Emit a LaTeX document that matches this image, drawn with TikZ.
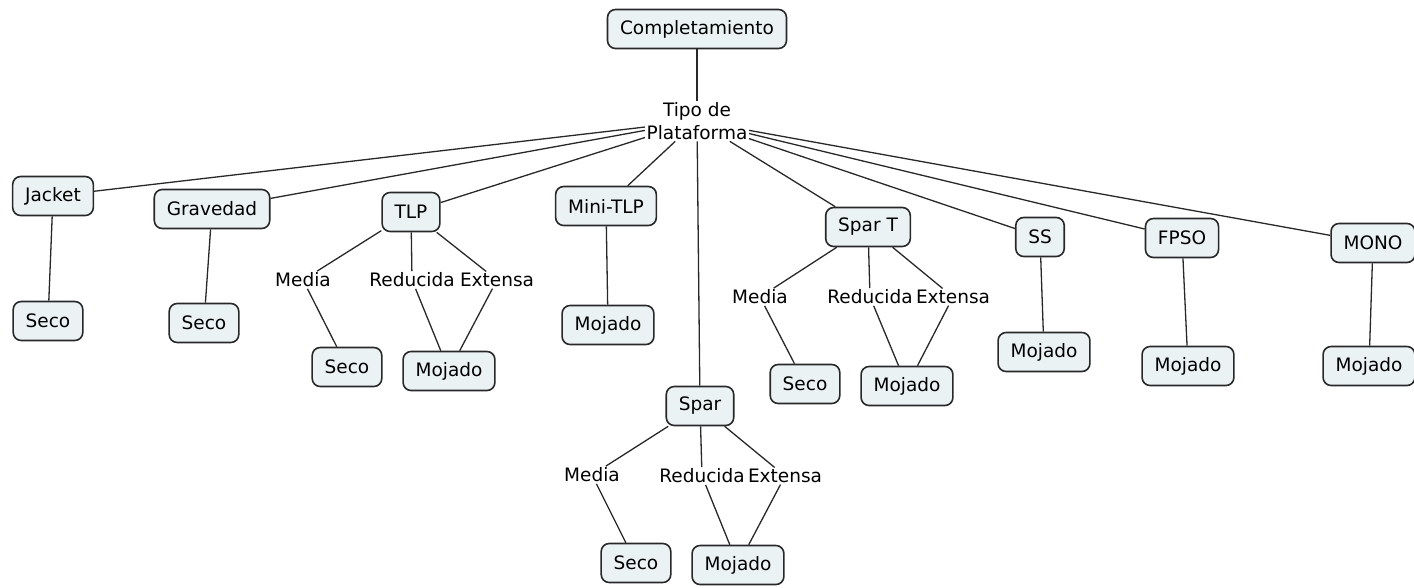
\documentclass[tikz,border=0pt]{standalone}
\usepackage{fontspec}
\setmainfont{DejaVu Sans}
\usepackage{xcolor}
\usetikzlibrary{positioning}

\definecolor{boxfill}{RGB}{235,242,244}
\definecolor{linegray}{RGB}{40,40,40}

\begin{document}
\begin{tikzpicture}[x=1pt, y=-1pt,
		concept/.style={draw=linegray, line width=1.6pt, fill=boxfill, rounded corners=8pt, minimum height=39pt, inner xsep=12.5pt, font=\fontsize{18.5}{23}\selectfont},
		phrase/.style={inner sep=1.5pt, font=\fontsize{18.5}{23}\selectfont},
		link/.style={draw=linegray, line width=1.3pt}]
	\useasboundingbox (0,0) rectangle (1414,587);
	% top
	\node[concept] (comp) at (697,29) {Completamiento};
	\node[phrase, align=center] (tipo) at (697,121) {Tipo de\\Plataforma};
	% platforms
	\node[concept] (jacket) at (53,196) {Jacket};
	\node[concept] (grav) at (212,209) {Gravedad};
	\node[concept] (tlp) at (411,212) {TLP};
	\node[concept] (mini) at (606,206) {Mini-TLP};
	\node[concept] (spar) at (700,406) {Spar};
	\node[concept] (spart) at (868,227) {Spar T};
	\node[concept] (ss) at (1040,237) {SS};
	\node[concept] (fpso) at (1182,238) {FPSO};
	\node[concept] (mono) at (1373,243) {MONO};
	% single leaves
	\node[concept] (jseco) at (48,321) {Seco};
	\node[concept] (gseco) at (204,323) {Seco};
	\node[concept] (mmoj) at (608,325) {Mojado};
	\node[concept] (ssmoj) at (1044,352) {Mojado};
	\node[concept] (fmoj) at (1188,366) {Mojado};
	\node[concept] (monomoj) at (1369,366) {Mojado};
	% TLP
	\node[phrase] (tmed) at (303,280) {Media};
	\node[phrase] (tred) at (412,280) {Reducida};
	\node[phrase] (text) at (497,280) {Extensa};
	\node[concept] (tseco) at (347,367) {Seco};
	\node[concept] (tmoj) at (449,371) {Mojado};
	% Spar T
	\node[phrase] (stmed) at (760,297) {Media};
	\node[phrase] (stred) at (870,297) {Reducida};
	\node[phrase] (stext) at (953,297) {Extensa};
	\node[concept] (stseco) at (805,384) {Seco};
	\node[concept] (stmoj) at (907,386) {Mojado};
	% Spar
	\node[phrase] (smed) at (592,475) {Media};
	\node[phrase] (sred) at (702,476) {Reducida};
	\node[phrase] (sext) at (785,476) {Extensa};
	\node[concept] (sseco) at (636,563) {Seco};
	\node[concept] (smoj) at (738,565) {Mojado};

	\draw
	(comp) edge[link] (tipo)
	(tipo) edge[link] (jacket)
	(tipo) edge[link] (grav)
	(tipo) edge[link] (tlp)
	(tipo) edge[link] (mini)
	(tipo) edge[link] (spar)
	(tipo) edge[link] (spart)
	(tipo) edge[link] (ss)
	(tipo) edge[link] (fpso)
	(tipo) edge[link] (mono)
	(jacket) edge[link] (jseco)
	(grav) edge[link] (gseco)
	(mini) edge[link] (mmoj)
	(ss) edge[link] (ssmoj)
	(fpso) edge[link] (fmoj)
	(mono) edge[link] (monomoj);
	\draw
	(tlp) edge[link] (tmed)
	(tlp) edge[link] (tred)
	(tlp) edge[link] (text)
	(tmed) edge[link] (tseco)
	(tred) edge[link] (tmoj)
	(text) edge[link] (tmoj)
	(spart) edge[link] (stmed)
	(spart) edge[link] (stred)
	(spart) edge[link] (stext)
	(stmed) edge[link] (stseco)
	(stred) edge[link] (stmoj)
	(stext) edge[link] (stmoj)
	(spar) edge[link] (smed)
	(spar) edge[link] (sred)
	(spar) edge[link] (sext)
	(smed) edge[link] (sseco)
	(sred) edge[link] (smoj)
	(sext) edge[link] (smoj);
\end{tikzpicture}
\end{document}
